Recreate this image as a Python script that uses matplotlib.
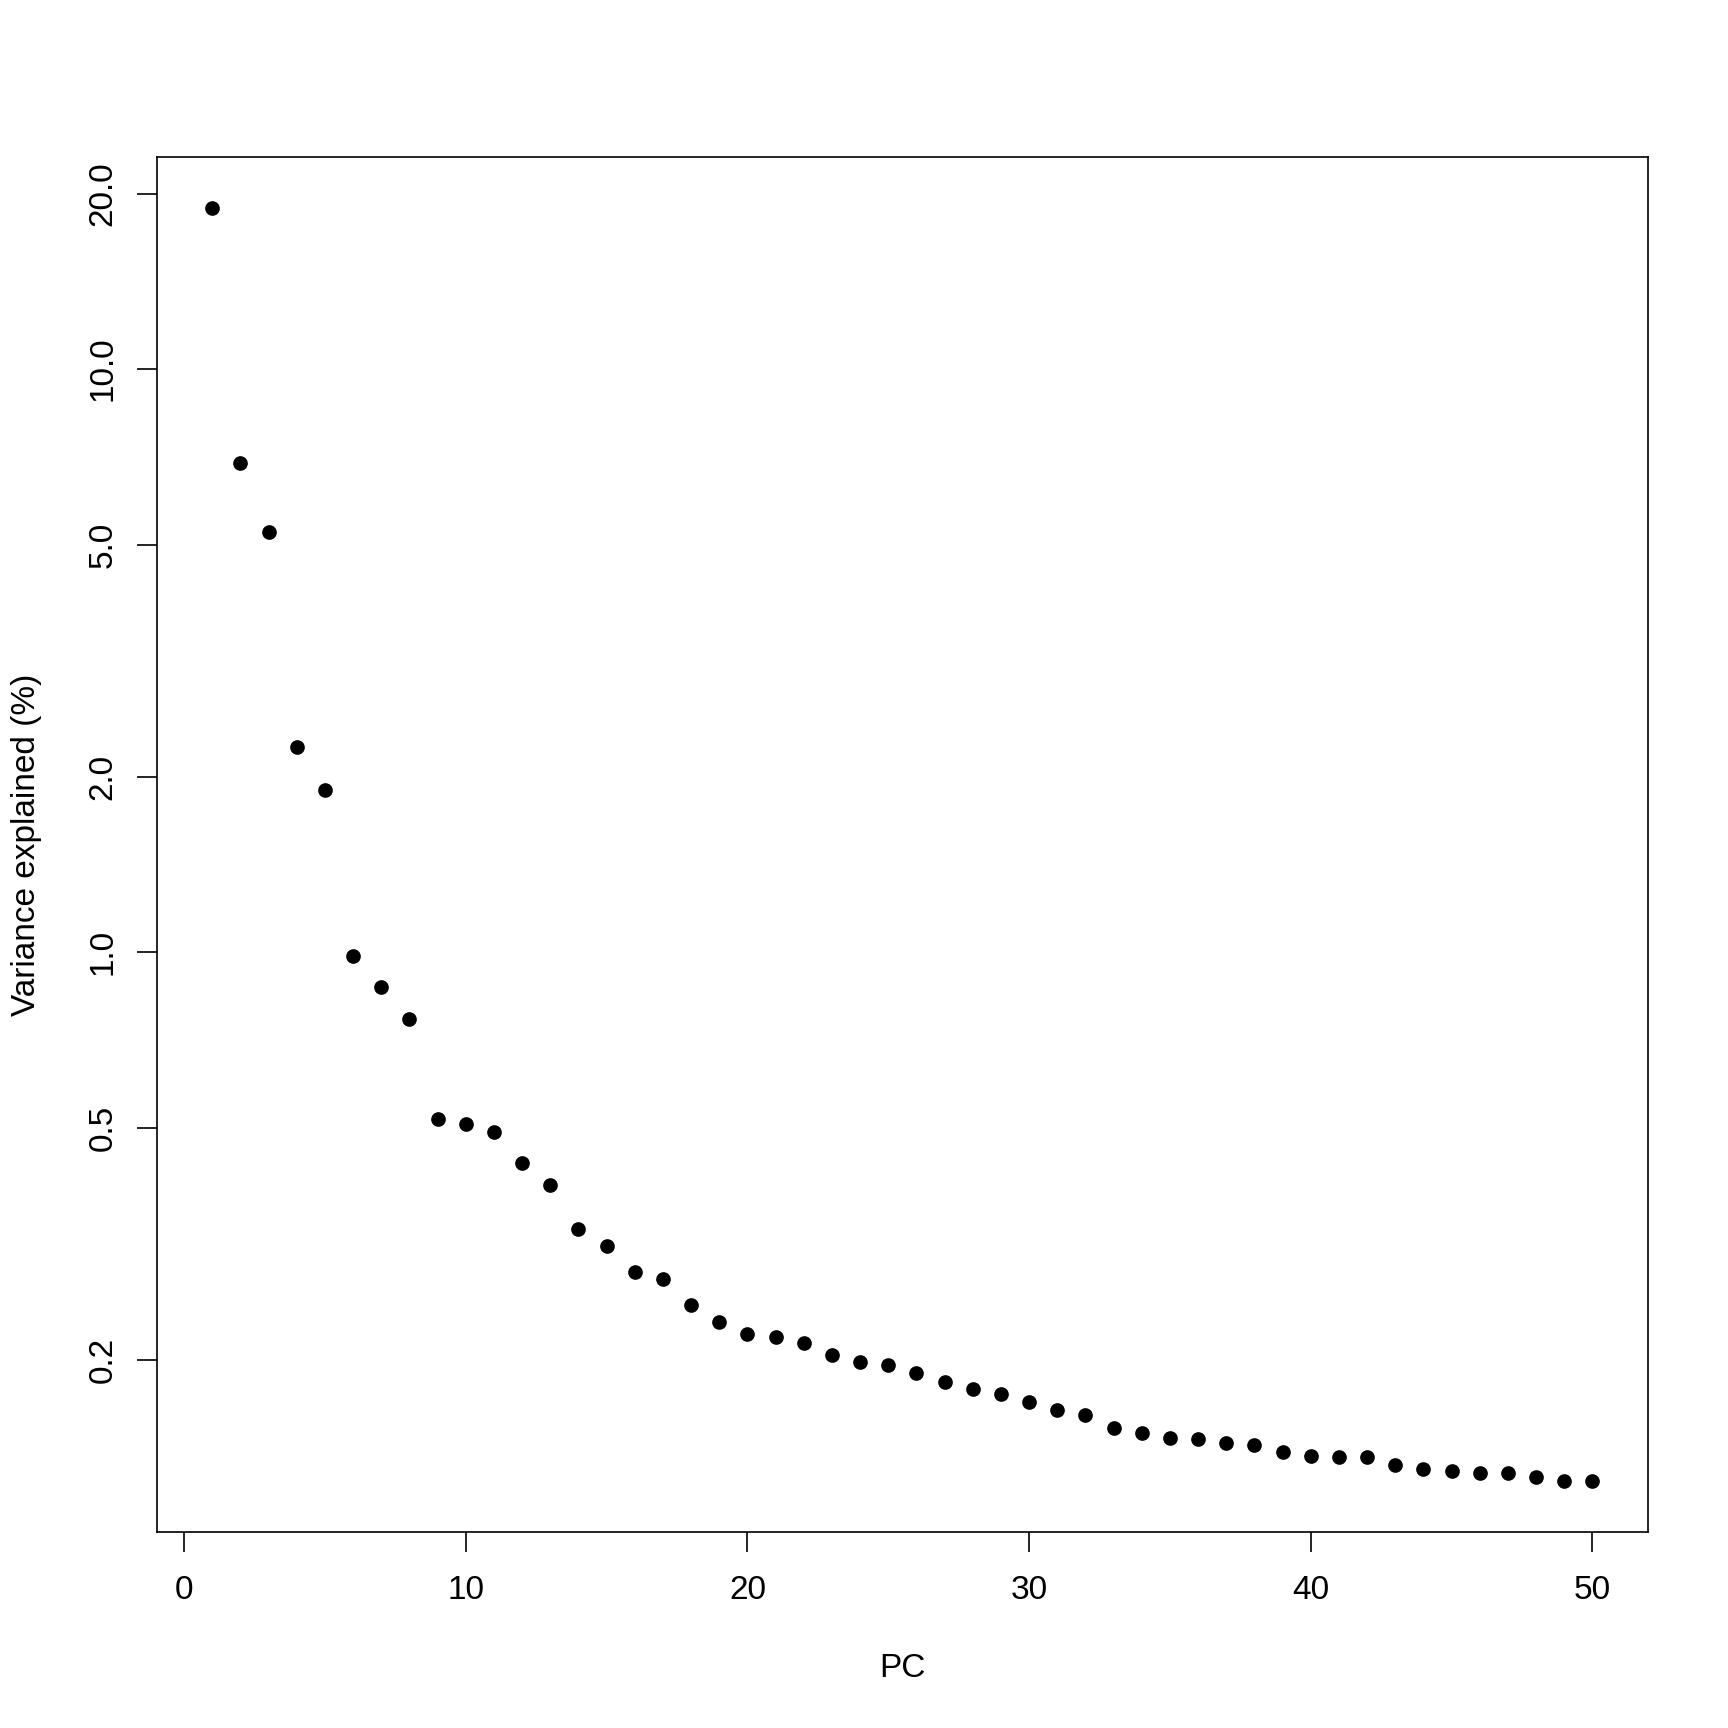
import numpy as np
import matplotlib.pyplot as plt
from matplotlib.ticker import FixedLocator, FixedFormatter, NullLocator

# R 风格的碎石图（log y 轴）
plt.rcParams['font.family'] = ['Liberation Sans', 'DejaVu Sans']

pc = list(range(1, 51))
var_explained = [18.9, 6.91, 5.25, 2.25, 1.90, 0.987, 0.870, 0.767, 0.518, 0.507,
                 0.492, 0.435, 0.399, 0.335, 0.314, 0.283, 0.275, 0.248, 0.232, 0.221,
                 0.219, 0.214, 0.204, 0.198, 0.196, 0.190, 0.183, 0.178, 0.175, 0.169,
                 0.164, 0.161, 0.153, 0.150, 0.147, 0.146, 0.144, 0.143, 0.139, 0.137,
                 0.136, 0.136, 0.132, 0.130, 0.129, 0.128, 0.128, 0.126, 0.124, 0.124]

y_ticks = [0.2, 0.5, 1.0, 2.0, 5.0, 10.0, 20.0]
y_tick_labels = ['0.2', '0.5', '1.0', '2.0', '5.0', '10.0', '20.0']
x_ticks = [0, 10, 20, 30, 40, 50]

fig = plt.figure(figsize=(7.2, 7.2), dpi=240)
ax = fig.add_axes([0.0909, 0.1136, 0.9535 - 0.0909, 0.9091 - 0.1136])

ax.plot(pc, var_explained, 'o', color='black', markersize=4.4, markeredgewidth=0)
ax.set_yscale('log')

# R 默认 4% 扩展
lo, hi = np.log10(min(var_explained)), np.log10(max(var_explained))
r = hi - lo
ax.set_ylim(10 ** (lo - 0.04 * r), 10 ** (hi + 0.04 * r))
ax.set_xlim(1 - 0.04 * 49, 50 + 0.04 * 49)

ax.yaxis.set_major_locator(FixedLocator(y_ticks))
ax.yaxis.set_major_formatter(FixedFormatter(y_tick_labels))
ax.yaxis.set_minor_locator(NullLocator())
ax.set_xticks(x_ticks)

for s in ax.spines.values():
    s.set_linewidth(0.5)
ax.tick_params(axis='both', length=6, width=0.5, labelsize=10)
ax.tick_params(axis='x', pad=7)
ax.tick_params(axis='y', pad=5.5)
for lab in ax.get_yticklabels():
    lab.set_rotation(90)
    lab.set_va('center')

ax.set_xlabel('PC', fontsize=10)
ax.set_ylabel('Variance explained (%)', fontsize=10)
ax.xaxis.set_label_coords(0.5, -0.088)
ax.yaxis.set_label_coords(-0.077, 0.5)

fig.savefig('out.png', dpi=240)
